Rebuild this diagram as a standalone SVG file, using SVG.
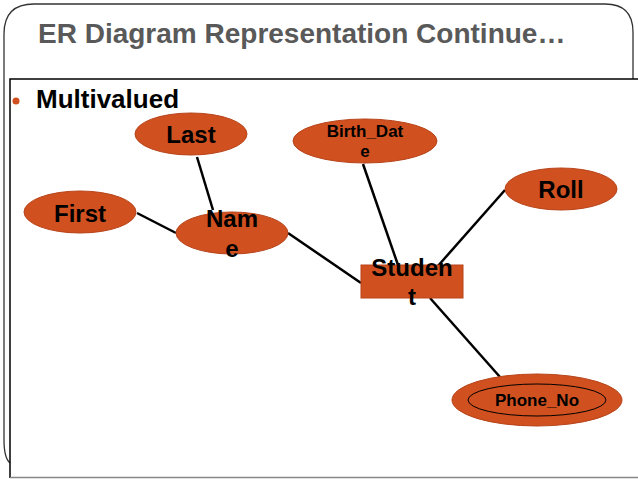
<svg xmlns="http://www.w3.org/2000/svg" width="638" height="479" viewBox="0 0 638 479">
<style>
.attr{fill:#D0501F;stroke:#B7441A;stroke-width:1}
.lbl{font-family:"Liberation Sans",Arial,sans-serif;font-weight:bold;fill:#000;text-anchor:middle}
.conn line{stroke:#000;stroke-width:2.5}
</style>
<rect width="638" height="479" fill="#fff"/>
<g id="frame">
<path d="M4,440 V34 Q4,4 34,4 H605 Q633,4 633,32 V79" fill="none" stroke="#333" stroke-width="1.3"/>
<path d="M4,440 Q4,458 10,463" fill="none" stroke="#333" stroke-width="1.3"/>
<path d="M638,79 H10 V478" fill="none" stroke="#000" stroke-width="1.5"/>
<line x1="10" y1="477.5" x2="638" y2="477.5" stroke="#888" stroke-width="1.5"/>
</g>
<text id="title" x="38" y="43" font-family="Liberation Sans,Arial,sans-serif" font-weight="bold" font-size="28" fill="#595959">ER Diagram Representation Continue…</text>
<g id="bullet">
<circle cx="16" cy="101" r="3.5" fill="#D0501F"/>
<text x="36" y="108" font-family="Liberation Sans,Arial,sans-serif" font-weight="bold" font-size="26" fill="#000">Multivalued</text>
</g>
<g class="conn" id="connectors">
<line x1="197" y1="157" x2="213" y2="210"/>
<line x1="137" y1="213" x2="176" y2="233"/>
<line x1="288" y1="233" x2="361" y2="283"/>
<line x1="363" y1="164" x2="398" y2="265"/>
<line x1="505" y1="190" x2="437" y2="267"/>
<line x1="430" y1="298" x2="500" y2="377"/>
</g>
<g id="last">
<ellipse class="attr" cx="191" cy="134" rx="56" ry="21"/>
<text class="lbl" x="191" y="143" font-size="24">Last</text>
</g>
<g id="first">
<ellipse class="attr" cx="80" cy="212" rx="56" ry="21"/>
<text class="lbl" x="80" y="222" font-size="24">First</text>
</g>
<g id="name">
<ellipse class="attr" cx="232" cy="233" rx="56" ry="21"/>
<text class="lbl" x="232" y="227" font-size="24">Nam</text>
<text class="lbl" x="232" y="257" font-size="24">e</text>
</g>
<g id="birthdate">
<ellipse class="attr" cx="365" cy="141" rx="72" ry="22"/>
<text class="lbl" x="365" y="137" font-size="17">Birth_Dat</text>
<text class="lbl" x="365" y="157" font-size="17">e</text>
</g>
<g id="roll">
<ellipse class="attr" cx="561" cy="189" rx="56" ry="21"/>
<text class="lbl" x="561" y="198" font-size="24">Roll</text>
</g>
<g id="student">
<rect class="attr" x="361" y="265" width="102" height="33"/>
<text class="lbl" x="412" y="276" font-size="24">Studen</text>
<text class="lbl" x="412" y="305" font-size="24">t</text>
</g>
<g id="phone">
<ellipse class="attr" cx="537" cy="400" rx="85" ry="26"/>
<ellipse cx="537" cy="400" rx="69" ry="16" fill="none" stroke="#000" stroke-width="1"/>
<text class="lbl" x="537" y="406" font-size="17">Phone_No</text>
</g>
</svg>
